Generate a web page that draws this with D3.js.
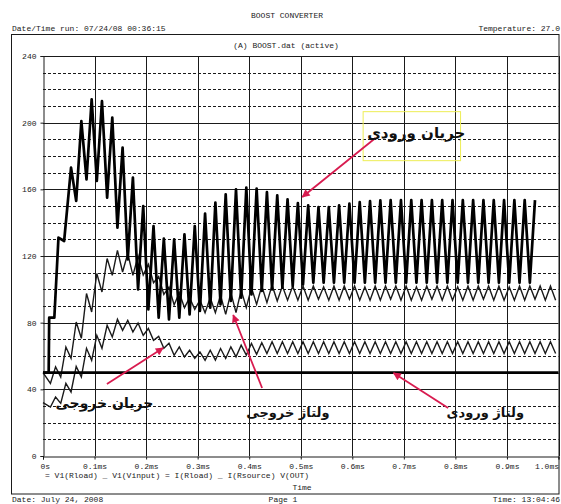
<!DOCTYPE html>
<html><head><meta charset="utf-8">
<script src="https://cdn.jsdelivr.net/npm/d3@7/dist/d3.min.js"></script>
<style>body{margin:0;background:#fff}svg{display:block}</style>
</head><body>
<svg id="c" width="561" height="504"></svg>
<script>
// ---------- data ----------
const xTicks = [0,0.1,0.2,0.3,0.4,0.5,0.6,0.7,0.8,0.9,1.0];
const xTickLabels = ["0s","0.1ms","0.2ms","0.3ms","0.4ms","0.5ms","0.6ms","0.7ms","0.8ms","0.9ms","1.0ms"];
const yTicks = [0,40,80,120,160,200,240];
const yTickLabels = ["0","40","80","120","160","200","240"];
const yMinor = [10,20,30,50,60,70,90,100,110,130,140,150,170,180,190,210,220,230];

// switching turning-point times (ms), one every half period (10 us)
const turnTimes = d3.range(1,100).map(i => +(0.0044 + 0.01*i).toFixed(4));

// V1(Vinput) : input voltage
const vinT = [0, 1.0];
const vinV = [50, 50];

// V1(Rload) : output voltage (start value + turning points)
const voutStart = 50;
const voutV = [43.5,53.5,47.4,65.4,58.6,80.4,70.6,97.5,86.4,109.5,
  98.4,118.5,108.4,123.4,110.4,121.5,108.4,120,108.6,115,
  104,107.7,97,101.4,90.6,98,89,95,88,93.6,
  86,95,86,96.5,85,98,86,99.5,89,101,
  91,102,92,102.5,93,102,93.5,102,93.5,102,
  93.5,102,94,101.5,93.5,102,93.5,102,94,102,
  93.5,101.5,93.5,102,93.5,102,94,102,93.5,102,
  93.5,101.5,93.5,102,94,102,93.5,102,93.5,101.5,
  93.5,102,93.5,102,94,102,93.5,102,93.5,101.5,
  93.5,102,93.5,102,94,102,93.5,102,93.5];

// I(Rload) : output current
const ioutStart = 32;
const ioutV = [29.4,35.4,31.6,43.6,38.4,53.8,47.4,64.6,57.4,72.4,
  64.6,78.4,71.4,82,75.4,81.4,74.4,79.8,72.4,76.5,
  69.4,71.8,64.6,67.6,60.4,65.4,59.4,63.4,58.6,62.4,
  57.4,63.5,57.5,64.5,58.5,65.5,59.5,66.5,60.5,67.5,
  61,68,61.5,68.5,61.5,68.5,61.5,68.5,61.5,68.5,
  61.5,68.5,61.5,68.5,61.5,68.5,61.5,68.5,61.5,68.5,
  61.5,68.5,61.5,68.5,61.5,68.5,61.5,68.5,61.5,68.5,
  61.5,68.5,61.5,68.5,61.5,68.5,61.5,68.5,61.5,68.5,
  61.5,68.5,61.5,68.5,61.5,68.5,61.5,68.5,61.5,68.5,
  61.5,68.5,61.5,68.5,61.5,68.5,61.5,68.5,61.5];

// I(Rsource) : input current (start-up points, then turning points from the 5th)
const iinStartT = [0, 0.011, 0.012, 0.022, 0.030, 0.041];
const iinStartV = [50, 50, 83, 83, 131, 129];
const iinV = [173,153,201,166,214,165,213,155,203,137,
  185,118,167,100,150,88,138,83,130.5,82,
  130,83,133,85,138,87,145.5,89,152,91,
  157,93,160,95,161,97,160.5,99,158.4,100,
  156.4,101,154,102,151.8,103,150.4,104,149.3,104,
  149.3,104,150.4,104,151.4,104,152.4,104,153,104,
  153.4,104,153.5,104,153.5,104,153.5,104,153.5,104,
  153.5,104,153.5,104,153.5,104,153.5,104,153.5,104,
  153.5,104,153.5,104,153.5,104,153.5,104,153.5,104,153.5];

const legendText = "= V1(Rload) _ V1(Vinput) = I(Rload) _ I(Rsource)  V(OUT)";

// annotations (data coordinates)
const annoLabels = ["جریان ورودی","جریان خروجی","ولتاژ خروجی","ولتاژ ورودی"];
const annoT = [0.724, 0.119, 0.475, 0.858];
const annoV = [193.5, 31.5, 25.5, 25.5];
const annoSize = [15, 14, 13, 13];
const arrowFromT = [0.645, 0.124, 0.425, 0.786];
const arrowFromV = [190.8, 43.2, 40.8, 28.8];
const arrowToT = [0.503, 0.233, 0.369, 0.680];
const arrowToV = [155.4, 64.8, 84.6, 49.8];
const boxT = [0.621, 0.810];
const boxV = [206.6, 177.2];

// ---------- drawing ----------
const svg = d3.select("#c");
const W = 561, H = 504;
const L = 43, R = 558.5, T = 56, B = 456;
const x = d3.scaleLinear().domain([0,1.0]).range([L,R]);
const y = d3.scaleLinear().domain([0,240]).range([B,T]);
const mono = "'Liberation Mono','DejaVu Sans Mono',monospace";
const ink = "#1a1a1a";

svg.append("rect").attr("width",W).attr("height",H).attr("fill","#fff");

function txt(s, px, py, anchor, size){
  return svg.append("text").attr("x",px).attr("y",py).attr("text-anchor",anchor||"start")
    .attr("font-family",mono).attr("font-size",size||8).attr("fill",ink).text(s);
}
txt("BOOST CONVERTER", 287, 18, "middle");
txt("Date/Time run: 07/24/08 00:36:15", 12, 31);
txt("Temperature: 27.0", 560, 31, "end");
txt("(A) BOOST.dat (active)", 286, 48, "middle");
txt("Date: July 24, 2008", 12, 502);
txt("Page 1", 283, 502, "middle");
txt("Time: 13:04:46", 560, 502, "end");

// outer frame
svg.append("rect").attr("x",11.5).attr("y",34.5).attr("width",547.5).attr("height",459.5)
  .attr("fill","none").attr("stroke",ink).attr("stroke-width",1);

// minor dashed grid
svg.append("g").selectAll("line").data(yMinor).join("line")
  .attr("x1",L).attr("x2",R).attr("y1",d=>Math.round(y(d))+0.5).attr("y2",d=>Math.round(y(d))+0.5)
  .attr("stroke",ink).attr("stroke-width",1).attr("stroke-dasharray","3,2");
// major solid grid
svg.append("g").selectAll("line").data(yTicks.slice(1)).join("line")
  .attr("x1",L).attr("x2",R).attr("y1",d=>Math.round(y(d))+0.5).attr("y2",d=>Math.round(y(d))+0.5)
  .attr("stroke",ink).attr("stroke-width",1);
svg.append("g").selectAll("line").data(xTicks.slice(1)).join("line")
  .attr("x1",d=>Math.round(x(d))+0.5).attr("x2",d=>Math.round(x(d))+0.5).attr("y1",T).attr("y2",B)
  .attr("stroke",ink).attr("stroke-width",1);

// axes
const xAxis = d3.axisBottom(x).tickValues(xTicks).tickSize(3).tickFormat((d,i)=>xTickLabels[i]);
const gx = svg.append("g").attr("transform",`translate(0,${Math.round(B)+0.5})`).call(xAxis);
const yAxis = d3.axisLeft(y).tickValues(yTicks).tickSize(3).tickFormat((d,i)=>yTickLabels[i]);
const gy = svg.append("g").attr("transform",`translate(${Math.round(L)+0.5},0)`).call(yAxis);
[gx,gy].forEach(g=>{
  g.select(".domain").attr("stroke",ink);
  g.selectAll(".tick line").attr("stroke",ink);
  g.selectAll("text").attr("font-family",mono).attr("font-size",8).attr("fill",ink);
});
gx.selectAll("text").attr("dy","0.8em");
gx.selectAll(".tick").filter((d,i)=>i===0).select("text").attr("text-anchor","start").attr("dx",-3);
gx.selectAll(".tick").filter((d,i)=>i===xTicks.length-1).select("text").attr("text-anchor","end").attr("dx",0);
gy.selectAll("text").attr("dx",-1);

// series
const line = d3.line().x(d=>x(d[0])).y(d=>y(d[1]));
const voutData = [[0,voutStart]].concat(turnTimes.map((t,i)=>[t,voutV[i]]));
const ioutData = [[0,ioutStart]].concat(turnTimes.map((t,i)=>[t,ioutV[i]]));
const iinData = iinStartT.map((t,i)=>[t,iinStartV[i]]).concat(turnTimes.slice(4).map((t,i)=>[t,iinV[i]]));
const vinData = vinT.map((t,i)=>[t,vinV[i]]);

const plot = svg.append("g");
plot.append("path").datum(ioutData).attr("d",line).attr("fill","none").attr("stroke",ink).attr("stroke-width",1.4);
plot.append("path").datum(voutData).attr("d",line).attr("fill","none").attr("stroke",ink).attr("stroke-width",1.4);
plot.append("path").datum(vinData).attr("d",line).attr("fill","none").attr("stroke","#000").attr("stroke-width",2.8);
plot.append("path").datum(iinData).attr("d",line).attr("fill","none").attr("stroke","#000").attr("stroke-width",2.7).attr("stroke-linejoin","round");

// legend
txt(legendText, 45, 478);
txt("Time", 302, 490, "middle");

// annotations
const red = "#d81b4f";
svg.append("defs").append("marker").attr("id","ah").attr("viewBox","0 0 10 10")
  .attr("refX",9).attr("refY",5).attr("markerWidth",10).attr("markerHeight",8)
  .attr("markerUnits","userSpaceOnUse").attr("orient","auto")
  .append("path").attr("d","M0,0L10,5L0,10Z").attr("fill",red);
svg.append("rect").attr("x",x(boxT[0])).attr("y",y(boxV[0]))
  .attr("width",x(boxT[1])-x(boxT[0])).attr("height",y(boxV[1])-y(boxV[0]))
  .attr("fill","none").attr("stroke","#eeee55").attr("stroke-width",1);
svg.append("g").selectAll("line").data(arrowFromT).join("line")
  .attr("x1",(d,i)=>x(arrowFromT[i])).attr("y1",(d,i)=>y(arrowFromV[i]))
  .attr("x2",(d,i)=>x(arrowToT[i])).attr("y2",(d,i)=>y(arrowToV[i]))
  .attr("stroke",red).attr("stroke-width",1.8).attr("marker-end","url(#ah)");
svg.append("g").selectAll("text").data(annoLabels).join("text")
  .attr("x",(d,i)=>x(annoT[i])).attr("y",(d,i)=>y(annoV[i]))
  .attr("text-anchor","middle").attr("dominant-baseline","middle").attr("direction","rtl")
  .attr("font-family","'DejaVu Sans',sans-serif").attr("font-weight","bold")
  .attr("font-size",(d,i)=>annoSize[i]).attr("fill","#111").text(d=>d);
</script>
</body></html>
